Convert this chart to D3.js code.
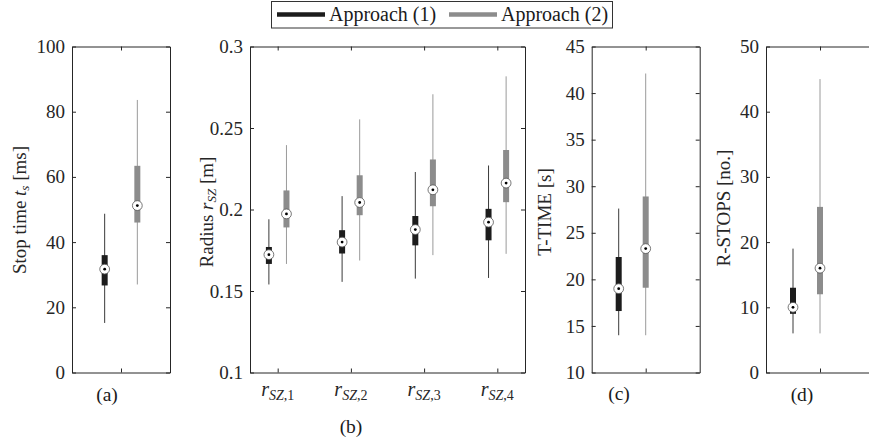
<!DOCTYPE html>
<html>
<head>
<meta charset="utf-8">
<script src="https://cdn.jsdelivr.net/npm/d3@7"></script>
<style>
  body { margin: 0; background: #fff; }
  svg { font-family: "Liberation Serif", "DejaVu Serif", serif; }
  .axis text { font-family: "Liberation Serif", "DejaVu Serif", serif; font-size: 19px; fill: #262626; }
  .axis path, .axis line { stroke: #262626; }
</style>
</head>
<body>
<div id="chart"></div>
<script>
// box stats: [whisker low, q1, median, q3, whisker high]
var seriesNames = ["Approach (1)", "Approach (2)"];
var stopTime1 = [15.2, 26.7, 31.7, 36.0, 48.7];
var stopTime2 = [27.0, 46.0, 51.2, 63.4, 83.6];
var radiusCats = ["1", "2", "3", "4"];
var radius1 = [
  [0.154, 0.1666, 0.1723, 0.177, 0.194],
  [0.1556, 0.173, 0.180, 0.1873, 0.2082],
  [0.1576, 0.178, 0.1877, 0.196, 0.223],
  [0.158, 0.1811, 0.1922, 0.2004, 0.227]
];
var radius2 = [
  [0.1666, 0.189, 0.1973, 0.2117, 0.2395],
  [0.1687, 0.1965, 0.2043, 0.221, 0.2553],
  [0.172, 0.202, 0.2121, 0.2307, 0.2707],
  [0.1728, 0.2045, 0.2162, 0.2365, 0.2817]
];
var tTime1 = [14.0, 16.6, 19.0, 22.4, 27.6];
var tTime2 = [14.0, 19.1, 23.3, 28.9, 42.1];
var rStops1 = [6, 9, 10, 13, 19];
var rStops2 = [6, 12, 16, 25.4, 45];

var ticksA = [0, 20, 40, 60, 80, 100];
var ticksB = [0.1, 0.15, 0.2, 0.25, 0.3];
var ticksC = [10, 15, 20, 25, 30, 35, 40, 45];
var ticksD = [0, 10, 20, 30, 40, 50];

var colors = ["#1c1c1c", "#8c8c8c"];
var whiskerColors = ["#3a3a3a", "#9a9a9a"];

var width = 869, height = 440;
var plotTop = 46.5, plotBottom = 372.5;

var svg = d3.select("#chart").append("svg")
    .attr("width", width)
    .attr("height", height);

// one panel = box + axes + boxes
function panel(opt) {
  var x = d3.scaleLinear().domain(opt.xDomain).range([opt.left, opt.right]);
  var y = d3.scaleLinear().domain(opt.yDomain).range([plotBottom, plotTop]);
  var g = svg.append("g");

  g.append("g").attr("class", "axis")
      .attr("transform", "translate(" + opt.left + ",0)")
      .call(d3.axisLeft(y).tickValues(opt.yTicks).tickSizeInner(-4).tickSizeOuter(0).tickPadding(7)
        .tickFormat(opt.yFormat || d3.format("")));
  if (opt.rightAxis !== false) {
    g.append("g").attr("class", "axis")
        .attr("transform", "translate(" + opt.right + ",0)")
        .call(d3.axisRight(y).tickValues(opt.yTicks).tickSizeInner(-4).tickSizeOuter(0).tickFormat(""));
  }
  g.append("g").attr("class", "axis")
      .attr("transform", "translate(0," + plotBottom + ")")
      .call(d3.axisBottom(x).tickValues(opt.xTicks).tickSizeInner(-4).tickSizeOuter(0).tickFormat(""));
  g.append("g").attr("class", "axis")
      .attr("transform", "translate(0," + plotTop + ")")
      .call(d3.axisTop(x).tickValues(opt.xTicks).tickSizeInner(-4).tickSizeOuter(0).tickFormat(""));

  opt.boxes.forEach(function(b) {
    var s = b.stats, cx = x(b.pos);
    g.append("line")
        .attr("x1", cx).attr("x2", cx)
        .attr("y1", y(s[0])).attr("y2", y(s[4]))
        .attr("stroke", whiskerColors[b.series])
        .attr("stroke-width", 1);
    g.append("rect")
        .attr("x", cx - 3).attr("width", 6)
        .attr("y", y(s[3])).attr("height", y(s[1]) - y(s[3]))
        .attr("fill", colors[b.series]);
    g.append("circle")
        .attr("cx", cx).attr("cy", y(s[2])).attr("r", 4.9)
        .attr("fill", "#fff").attr("stroke", "#555").attr("stroke-width", 0.8);
    g.append("circle")
        .attr("cx", cx).attr("cy", y(s[2])).attr("r", 1.4)
        .attr("fill", "#000");
  });

  // y title
  var t = svg.append("text")
      .attr("transform", "translate(" + opt.titleX + "," + opt.titleY + ") rotate(-90)")
      .attr("text-anchor", "middle")
      .style("font-size", "19px")
      .attr("fill", "#262626");
  opt.title(t);

  svg.append("text")
      .attr("x", opt.labelX).attr("y", opt.labelY)
      .attr("text-anchor", "middle")
      .style("font-size", "19.5px")
      .attr("fill", "#1a1a1a")
      .text(opt.label);
  return x;
}

// (a)
panel({
  left: 72, right: 170, xDomain: [0, 3], xTicks: [1.5],
  yDomain: [0, 100], yTicks: ticksA,
  boxes: [{pos: 1, series: 0, stats: stopTime1}, {pos: 2, series: 1, stats: stopTime2}],
  titleX: 26, titleY: 210,
  title: function(t) {
    t.append("tspan").text("Stop time ");
    t.append("tspan").style("font-style", "italic").text("t");
    t.append("tspan").attr("baseline-shift", "-25%").style("font-size", "13px").style("font-style", "italic").text("s");
    t.append("tspan").text(" [ms]");
  },
  label: "(a)", labelX: 107, labelY: 401
});

// (b)
var boxesB = [];
radiusCats.forEach(function(c, i) {
  boxesB.push({pos: i + 1 - 0.12, series: 0, stats: radius1[i]});
  boxesB.push({pos: i + 1 + 0.12, series: 1, stats: radius2[i]});
});
var xb = panel({
  left: 250, right: 525, xDomain: [0.622, 4.378], xTicks: [1, 2, 3, 4],
  yDomain: [0.1, 0.3], yTicks: ticksB, yFormat: function(d) { return d3.format("")(+d.toFixed(2)); },
  boxes: boxesB,
  titleX: 213, titleY: 212,
  title: function(t) {
    t.append("tspan").text("Radius ");
    t.append("tspan").style("font-style", "italic").text("r");
    t.append("tspan").attr("baseline-shift", "-25%").style("font-size", "13px").style("font-style", "italic").text("SZ");
    t.append("tspan").text(" [m]");
  },
  label: "(b)", labelX: 351, labelY: 433
});
radiusCats.forEach(function(c, i) {
  var t = svg.append("text")
      .attr("x", xb(i + 1)).attr("y", 396)
      .attr("text-anchor", "middle")
      .style("font-size", "20px")
      .attr("fill", "#262626");
  t.append("tspan").style("font-style", "italic").text("r");
  t.append("tspan").attr("baseline-shift", "-25%").style("font-size", "14px").style("font-style", "italic").text("SZ");
  t.append("tspan").attr("baseline-shift", "-25%").style("font-size", "14px").text("," + c);
});

// (c)
panel({
  left: 591.7, right: 699.7, xDomain: [0, 4], xTicks: [2],
  yDomain: [10, 45], yTicks: ticksC,
  boxes: [{pos: 1, series: 0, stats: tTime1}, {pos: 2, series: 1, stats: tTime2}],
  titleX: 551, titleY: 212,
  title: function(t) { t.text("T-TIME [s]"); },
  label: "(c)", labelX: 619, labelY: 400
});

// (d)
panel({
  left: 766, right: 874, xDomain: [0, 4], xTicks: [2], rightAxis: false,
  yDomain: [0, 50], yTicks: ticksD,
  boxes: [{pos: 1, series: 0, stats: rStops1}, {pos: 2, series: 1, stats: rStops2}],
  titleX: 730, titleY: 208,
  title: function(t) { t.text("R-STOPS [no.]"); },
  label: "(d)", labelX: 802, labelY: 401
});

// legend
var legend = svg.append("g");
legend.append("rect")
    .attr("x", 271.5).attr("y", 1.5)
    .attr("width", 341).attr("height", 26.5)
    .attr("fill", "#fff").attr("stroke", "#333").attr("stroke-width", 1);
var legX = [277, 449];
seriesNames.forEach(function(name, i) {
  legend.append("line")
      .attr("x1", legX[i]).attr("x2", legX[i] + 48)
      .attr("y1", 14.5).attr("y2", 14.5)
      .attr("stroke", colors[i]).attr("stroke-width", 4.3);
  legend.append("text")
      .attr("x", legX[i] + 52).attr("y", 20.5)
      .style("font-size", "20px")
      .attr("fill", "#1a1a1a")
      .text(name);
});
</script>
</body>
</html>
